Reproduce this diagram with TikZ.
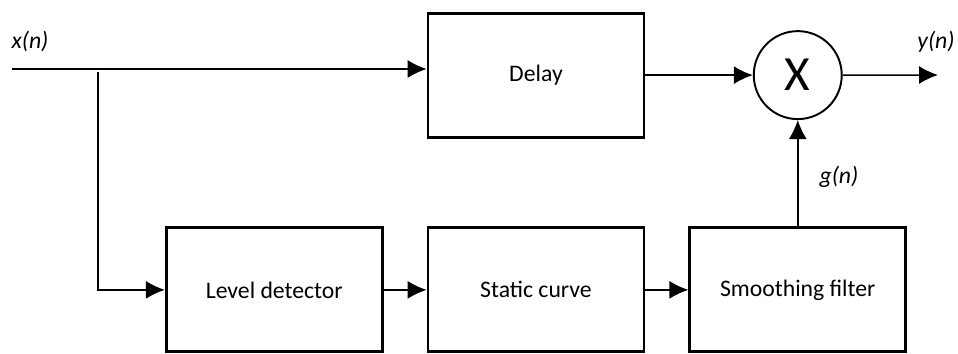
\documentclass[tikz,border=0pt]{standalone}
\usepackage{fontspec}
\setmainfont{Carlito}
\usetikzlibrary{matrix,positioning,arrows.meta,calc}

\begin{document}
\begin{tikzpicture}[
x=0.02cm,
y=-0.02cm,
plain/.style={
  draw=none,
  fill=none,
  },
block/.style={
  rectangle,
  draw,
  line width=1.6pt,
  minimum width=4.32cm,
  minimum height=2.48cm,
  anchor=center,
  font=\fontsize{13.5}{16}\selectfont
  },
mult/.style={
  circle,
  draw,
  line width=1.1pt,
  inner sep=0pt,
  minimum size=1.76cm,
  font=\fontsize{28}{32}\selectfont
  },
sig/.style={
  font=\itshape\fontsize{13.5}{16}\selectfont
  },
net/.style={
  matrix of nodes,
  nodes={block},
  nodes in empty cells,
  column sep=0.86cm,
  row sep=1.76cm
  },
>={Latex[length=3.8mm,width=3.6mm]},
line width=0.85pt
]
\useasboundingbox (0,0) rectangle (958,354);
\matrix[net] (mat) at (536,182.5)
{
|[plain]| & Delay & |[mult]| X \\
Level detector & Static curve & Smoothing filter \\ };
\node[sig] (xn) at (30,41) {x(n)};
\node[sig] (yn) at (936,42) {y(n)};
\node[sig] (gn) at (839,177) {g(n)};
\coordinate (in) at (12,69);
\coordinate (tap) at (98,72);
\coordinate (out) at (938,75);
\draw[->] (in) -- (in -| mat-1-2.west);
\draw[->] (tap) |- (mat-2-1.west);
\draw[->] (mat-1-2.east) -- (mat-1-3.west);
\draw[->] (mat-1-3.east) -- (out);
\draw[->] (mat-2-1) -- (mat-2-2);
\draw[->] (mat-2-2) -- (mat-2-3);
\draw[->] (mat-2-3) -- (mat-1-3);
\end{tikzpicture}
\end{document}
